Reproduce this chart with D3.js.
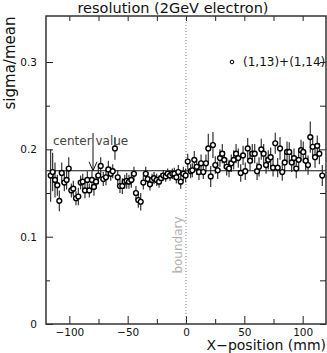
<!DOCTYPE html>
<html>
<head>
<meta charset="utf-8">
<script src="https://cdn.jsdelivr.net/npm/d3@7"></script>
<style>
  body { margin: 0; background: #fff; }
  text { font-family: "DejaVu Sans", sans-serif; fill: #111; }
</style>
</head>
<body>
<div class="chart"></div>
<script>
var w = 327, h = 353;

// x position (mm) of each measurement
var xPos = [-116, -114.3, -112.3, -110.3, -108.6, -106.5, -104.3, -102.3, -100.5, -98.3,
	-96.6, -94.3, -92.3, -90.3, -88.5, -86.6, -84.6, -82.9, -80.6, -78.9,
	-77.1, -75.2, -73.1, -70.9, -68.6, -66.6, -64.5, -62.8, -60.9, -58.5,
	-56.6, -54.6, -52.5, -50.8, -48.9, -46.9, -44.6, -42.9, -40.9, -38.8,
	-36.6, -34.5, -32.8, -30.9, -29.1, -27.4, -25.1, -23.1, -21.4, -19.5,
	-17.4, -15.7, -13.7, -11.7, -10.0, -8.3,
	-6.6, -4.5, -2.3, -0.3, 1.5, 4, 5.4, 7.1, 9.2, 11.1,
	12.9, 14.8, 17.1, 19.1, 21.2, 23.1, 25.1, 27.2, 29.1, 31.1,
	32.8, 34.9, 36.9, 38.8, 40.9, 42.9, 44.8, 46.9, 48.9, 50.8,
	52.9, 54.9, 56.8, 58.9, 60.9, 62.6, 64.5, 66.6, 68.6, 70.5,
	72.6, 74.6, 76.5, 78.6, 80.6, 82.5, 84.6, 86.6, 88.5, 90.6,
	92.6, 94.5, 96.6, 98.6, 100.5, 102.6, 104.6, 106.5, 108.6, 110.6,
	112.5, 114.3, 116.8];

// sigma/mean
var sigmaMean = [0.170, 0.174, 0.165, 0.159, 0.141, 0.173, 0.162, 0.165, 0.178, 0.153,
	0.155, 0.144, 0.146, 0.162, 0.163, 0.153, 0.165, 0.153, 0.165, 0.157,
	0.163, 0.170, 0.181, 0.166, 0.168, 0.177, 0.172, 0.175, 0.201, 0.168,
	0.158, 0.158, 0.163, 0.164, 0.163, 0.165, 0.172, 0.150, 0.142, 0.140,
	0.162, 0.172, 0.166, 0.160, 0.165, 0.167, 0.165, 0.163, 0.167, 0.170,
	0.169, 0.172, 0.170, 0.172, 0.172, 0.168,
	0.174, 0.163, 0.172, 0.170, 0.186, 0.175, 0.176, 0.188, 0.180, 0.174,
	0.184, 0.174, 0.184, 0.201, 0.169, 0.205, 0.182, 0.176, 0.190, 0.195,
	0.188, 0.180, 0.178, 0.184, 0.188, 0.195, 0.190, 0.173, 0.193, 0.175,
	0.201, 0.187, 0.195, 0.195, 0.175, 0.180, 0.200, 0.195, 0.182, 0.188,
	0.191, 0.179, 0.207, 0.179, 0.201, 0.174, 0.185, 0.197, 0.197, 0.185,
	0.190, 0.178, 0.188, 0.199, 0.197, 0.187, 0.182, 0.214, 0.203, 0.191,
	0.204, 0.195, 0.170];

// error (half length of bar)
var sigmaErr = [0.030, 0.022, 0.020, 0.012, 0.012, 0.012, 0.010, 0.011, 0.013, 0.008,
	0.009, 0.008, 0.010, 0.008, 0.009, 0.009, 0.010, 0.008, 0.010, 0.010,
	0.008, 0.010, 0.010, 0.008, 0.009, 0.010, 0.008, 0.008, 0.013, 0.008,
	0.008, 0.009, 0.008, 0.009, 0.008, 0.009, 0.008, 0.008, 0.009, 0.010,
	0.008, 0.008, 0.008, 0.007, 0.007, 0.007, 0.007, 0.007, 0.006, 0.006,
	0.006, 0.006, 0.006, 0.006, 0.007, 0.007,
	0.008, 0.008, 0.008, 0.008, 0.009, 0.008, 0.008, 0.010, 0.009, 0.009,
	0.010, 0.008, 0.010, 0.017, 0.012, 0.015, 0.010, 0.010, 0.010, 0.011,
	0.010, 0.010, 0.010, 0.010, 0.011, 0.011, 0.011, 0.010, 0.011, 0.010,
	0.012, 0.011, 0.011, 0.011, 0.010, 0.011, 0.012, 0.011, 0.010, 0.011,
	0.011, 0.010, 0.012, 0.011, 0.013, 0.010, 0.011, 0.012, 0.011, 0.011,
	0.011, 0.011, 0.011, 0.012, 0.012, 0.011, 0.011, 0.018, 0.013, 0.012,
	0.012, 0.012, 0.012];

var centerValue = 0.1755;
var xMajor = [-100, -50, 0, 50, 100],
	xMinor = [-75, -25, 25, 75],
	yMajor = [0, 0.1, 0.2, 0.3],
	yMinor = [0.05, 0.15, 0.25];

var data = xPos.map(function(d, i) {
	return { x: d, y: sigmaMean[i], e: sigmaErr[i] };
});

// plot frame edges in pixels
var pL = 46, pR = 326, pT = 16, pB = 324;

var x = d3.scaleLinear().domain([-120, 120]).range([pL, pR]);
var y = d3.scaleLinear().domain([0, 0.3527]).range([pB, pT]);

var svg = d3.select('.chart').append('svg')
	.attr('width', w)
	.attr('height', h);

// ticks, all pointing inward
function ticks(axis, tx, ty) {
	var g = svg.append('g')
		.attr('transform', 'translate(' + tx + ',' + ty + ')')
		.call(axis);
	g.select('.domain').remove();
	g.selectAll('line').attr('stroke', '#222');
	g.selectAll('text')
		.style('font-size', '10.5px')
		.style('font-family', '"DejaVu Sans", sans-serif')
		.attr('fill', '#111');
	return g;
}

var fmt = function(d) { return d === 0 ? '0' : d3.format('.1f')(d); };

ticks(d3.axisBottom(x).tickValues(xMajor).tickSize(-8).tickPadding(5)
	.tickFormat(function(d) { return d < 0 ? '\u2212' + Math.abs(d) : d; }), 0, pB);
ticks(d3.axisBottom(x).tickValues(xMinor).tickSize(-5).tickFormat(''), 0, pB);
ticks(d3.axisTop(x).tickValues(xMajor.concat(xMinor)).tickSize(-5).tickFormat(''), 0, pT);

ticks(d3.axisLeft(y).tickValues(yMajor).tickSize(-7).tickPadding(9).tickFormat(fmt), pL, 0);
ticks(d3.axisLeft(y).tickValues(yMinor).tickSize(-4).tickFormat(''), pL, 0);
ticks(d3.axisRight(y).tickValues(yMajor.concat(yMinor)).tickSize(-6).tickFormat(''), pR, 0);

// boundary line
svg.append('line')
	.attr('x1', x(0)).attr('x2', x(0))
	.attr('y1', pT).attr('y2', pB)
	.attr('stroke', '#888')
	.attr('stroke-width', 1)
	.attr('stroke-dasharray', '1,2');

svg.append('text')
	.attr('transform', 'translate(' + (x(0) - 4) + ',245) rotate(-90)')
	.attr('text-anchor', 'middle')
	.style('font-size', '12px')
	.style('fill', '#b0b0b0')
	.text('boundary');

// center value line
svg.append('line')
	.attr('x1', pL).attr('x2', pR)
	.attr('y1', y(centerValue)).attr('y2', y(centerValue))
	.attr('stroke', '#111')
	.attr('stroke-width', 1.2);

// error bars
svg.append('g').selectAll('line')
	.data(data)
	.enter()
	.append('line')
	.attr('x1', function(d) { return x(d.x); })
	.attr('x2', function(d) { return x(d.x); })
	.attr('y1', function(d) { return y(d.y - d.e); })
	.attr('y2', function(d) { return y(d.y + d.e); })
	.attr('stroke', '#222')
	.attr('stroke-width', 1.1);

// markers
svg.append('g').selectAll('circle')
	.data(data)
	.enter()
	.append('circle')
	.attr('cx', function(d) { return x(d.x); })
	.attr('cy', function(d) { return y(d.y); })
	.attr('r', 2.4)
	.attr('fill', '#fff')
	.attr('stroke', '#000')
	.attr('stroke-width', 1.4);

// annotation
svg.append('text')
	.attr('x', 53).attr('y', 145)
	.style('font-size', '12px')
	.style('fill', '#444')
	.text('center value');

svg.append('line')
	.attr('x1', 93).attr('x2', 93)
	.attr('y1', 133).attr('y2', y(centerValue))
	.attr('stroke', '#111').attr('stroke-width', 1);
svg.append('path')
	.attr('d', 'M89,' + (y(centerValue) - 9) + 'L93,' + y(centerValue) + 'L97,' + (y(centerValue) - 9))
	.attr('fill', 'none')
	.attr('stroke', '#111').attr('stroke-width', 1);

// legend
svg.append('circle')
	.attr('cx', 232).attr('cy', 62).attr('r', 1.8)
	.attr('fill', '#fff').attr('stroke', '#000').attr('stroke-width', 1);
svg.append('text')
	.attr('x', 243).attr('y', 66)
	.style('font-size', '12px')
	.text('(1,13)+(1,14)');

// frame
svg.append('rect')
	.attr('x', pL).attr('y', pT)
	.attr('width', pR - pL).attr('height', pB - pT)
	.attr('fill', 'none')
	.attr('stroke', '#333')
	.attr('stroke-width', 1.5);

// titles
svg.append('text')
	.attr('x', 173).attr('y', 13)
	.attr('text-anchor', 'middle')
	.style('font-size', '14.5px')
	.text('resolution (2GeV electron)');

svg.append('text')
	.attr('transform', 'translate(15,63) rotate(-90)')
	.attr('text-anchor', 'middle')
	.style('font-size', '15px')
	.text('sigma/mean');

svg.append('text')
	.attr('x', 326).attr('y', 350)
	.attr('text-anchor', 'end')
	.style('font-size', '14px')
	.text('X\u2212position (mm)');
</script>
</body>
</html>
